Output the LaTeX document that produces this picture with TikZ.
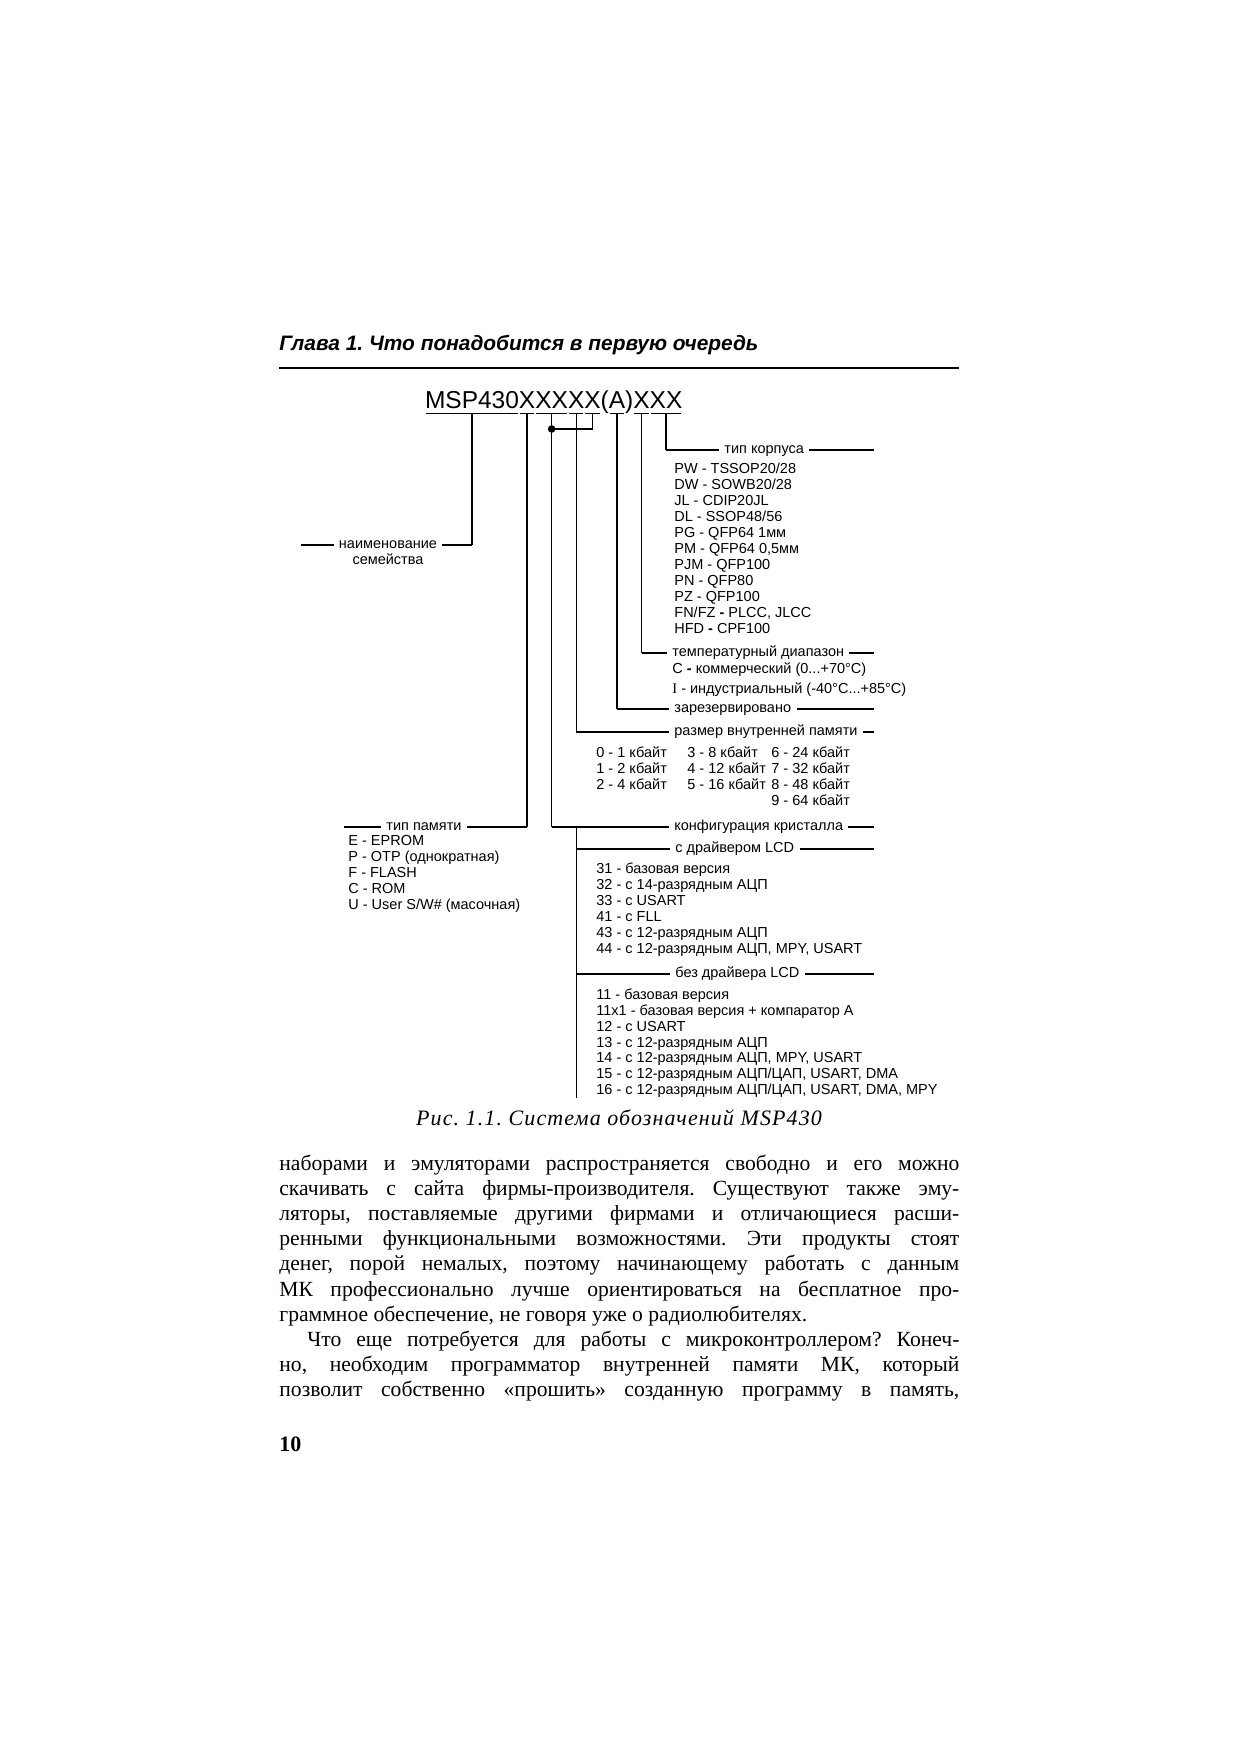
\documentclass[tikz,border=0pt]{standalone}
\usepackage{fontspec}
\setmainfont{Liberation Serif}
\setsansfont{Liberation Sans}
\usetikzlibrary{positioning}
\frenchspacing

\begin{document}
\begin{tikzpicture}[x=0.5pt,y=-0.5pt,
  dg/.style={font=\sffamily\fontsize{7.25pt}{8pt}\selectfont,inner xsep=2.5pt,inner ysep=0pt,text height=5pt,text depth=1.4pt},
  lst/.style={dg,anchor=west,inner xsep=0pt,yshift=-1pt},
  ttl/.style={font=\sffamily\fontsize{12.25pt}{14pt}\selectfont,inner sep=0pt,outer sep=0pt,anchor=base west},
  vln/.style={line width=0.65pt},
  hln/.style={line width=1.2pt},
  uln/.style={line width=0.5pt,shorten <=0.5pt,shorten >=0.5pt},
  bodyln/.style={font=\rmfamily\fontsize{10.8pt}{12.6pt}\selectfont,inner sep=0pt,anchor=base west}]
  \useasboundingbox (0,0) rectangle (1240,1755);
  \fill[white] (0,0) rectangle (1240,1755);

  % running head
  \node[font=\sffamily\bfseries\itshape\fontsize{10.45pt}{12pt}\selectfont,anchor=base west,inner sep=0pt] (hdr) at (279,350) {Глава 1. Что понадобится в первую очередь};
  \draw[line width=1.2pt] (279,368) -- (959,368);

  % part number, split in groups
  \node[ttl] (fam) at (425,408) {MSP430};
  \node[ttl] (mt) at (fam.base east) {X};
  \node[ttl] (cf) at (mt.base east) {XX};
  \node[ttl] (ms) at (cf.base east) {X};
  \node[ttl] (cf2) at (ms.base east) {X};
  \node[ttl] (lp) at (cf2.base east) {(};
  \node[ttl] (rs) at (lp.base east) {A};
  \node[ttl] (rp) at (rs.base east) {)};
  \node[ttl] (tr) at (rp.base east) {X};
  \node[ttl] (pk) at (tr.base east) {XX};
  \foreach \n in {fam,mt,cf,ms,cf2,rs,tr,pk} {
    \draw[uln] ([yshift=-2.5pt]\n.base west) -- ([yshift=-2.5pt]\n.base east);
    \coordinate (t-\n) at ([yshift=-2.5pt]\n.base);
  }
  \coordinate (rend) at (874,0);

  % family name
  \node[dg] (famname) at (388,545) {наименование};
  \node[dg,below=1pt of famname] (famname2) {семейства};
  \coordinate (fam-end) at (301,545);
  \draw[vln] (t-fam) -- (t-fam |- famname.east);
  \draw[hln] (t-fam |- famname.east) -- (famname.east);
  \draw[hln] (famname.west) -- (fam-end);

  % package
  \node[dg,anchor=west] (pkgl) at (719,450) {тип корпуса};
  \draw[vln] (t-pk) -- (t-pk |- pkgl.west);
  \draw[hln] (t-pk |- pkgl.west) -- (pkgl.west);
  \draw[hln] (pkgl.east) -- (pkgl.east -| rend);
  \foreach \txt [count=\i] in {PW - TSSOP20/28,DW - SOWB20/28,JL - CDIP20JL,DL - SSOP48/56,PG - QFP64 1мм,PM - QFP64 0{,}5мм,PJM - QFP100,PN - QFP80,PZ - QFP100,{FN/FZ \textbf{-} PLCC, JLCC},HFD \textbf{-} CPF100}
    \node[lst] (pkg-\i) at (674,{468+16*(\i-1)}) {\txt};

  % temperature
  \node[dg,anchor=west] (tmpl) at (667,653) {температурный диапазон};
  \draw[vln] (t-tr) -- (t-tr |- tmpl.west);
  \draw[hln] (t-tr |- tmpl.west) -- (tmpl.west);
  \draw[hln] (tmpl.east) -- (tmpl.east -| rend);
  \node[lst] (tmp-1) at (672,668) {C \textbf{-} коммерческий (0...+70°C)};
  \node[lst] (tmp-2) at (672,688) {{\rmfamily I} - индустриальный (-40°C...+85°C)};

  % reserved
  \node[dg,anchor=west] (rsvl) at (669,709) {зарезервировано};
  \draw[vln] (t-rs) -- (t-rs |- rsvl.west);
  \draw[hln] (t-rs |- rsvl.west) -- (rsvl.west);
  \draw[hln] (rsvl.east) -- (rsvl.east -| rend);

  % memory size
  \node[dg,anchor=west] (meml) at (669,732) {размер внутренней памяти};
  \draw[vln] (t-ms) -- (t-ms |- meml.west);
  \draw[hln] (t-ms |- meml.west) -- (meml.west);
  \draw[hln] (meml.east) -- (meml.east -| rend);
  \foreach \x/\y/\txt [count=\i] in {596/752/0 - 1 кбайт,596/768/1 - 2 кбайт,596/784/2 - 4 кбайт,
      687/752/3 - 8 кбайт,687/768/4 - 12 кбайт,687/784/5 - 16 кбайт,
      771/752/6 - 24 кбайт,771/768/7 - 32 кбайт,771/784/8 - 48 кбайт,771/800/9 - 64 кбайт}
    \node[lst] (mem-\i) at (\x,\y) {\txt};

  % memory type
  \node[dg] (mtl) at (424,827) {тип памяти};
  \coordinate (mt-end) at (344,827);
  \draw[vln] (t-mt) -- (t-mt |- mtl.east);
  \draw[hln] (t-mt |- mtl.east) -- (mtl.east);
  \draw[hln] (mtl.west) -- (mt-end);
  \foreach \txt [count=\i] in {E - EPROM,P - OTP (однократная),F - FLASH,C - ROM,U - User S/W\# (масочная)}
    \node[lst] (mtp-\i) at (348,{840+16*(\i-1)}) {\txt};

  % configuration
  \coordinate (jn) at ([yshift=-8pt]t-cf);
  \node[dg,anchor=west] (cfgl) at (669,827) {конфигурация кристалла};
  \draw[vln] (t-cf) -- (t-cf |- cfgl.west);
  \draw[hln] (t-cf |- cfgl.west) -- (cfgl.west);
  \draw[hln] (cfgl.east) -- (cfgl.east -| rend);
  \draw[vln] (t-cf2) -- (t-cf2 |- jn);
  \draw[hln] (t-cf2 |- jn) -- (jn);
  \fill (jn) circle[radius=1.9pt];

  \node[dg,anchor=west] (lcdl) at (670,849) {с драйвером LCD};
  \draw[hln] (lcdl.east) -- (lcdl.east -| rend);
  \foreach \txt [count=\i] in {31 - базовая версия,32 - с 14-разрядным АЦП,33 - с USART,41 - с FLL,43 - с 12-разрядным АЦП,{44 - с 12-разрядным АЦП, MPY, USART}}
    \node[lst] (lcd-\i) at (596,{868+16*(\i-1)}) {\txt};

  \node[dg,anchor=west] (nlcdl) at (670,974) {без драйвера LCD};
  \draw[hln] (nlcdl.east) -- (nlcdl.east -| rend);
  \foreach \txt [count=\i] in {11 - базовая версия,11x1 - базовая версия + компаратор A,12 - с USART,13 - с 12-разрядным АЦП,{14 - с 12-разрядным АЦП, MPY, USART},{15 - с 12-разрядным АЦП/ЦАП, USART, DMA},{16 - с 12-разрядным АЦП/ЦАП, USART, DMA, MPY}}
    \node[lst] (nl-\i) at (596,{994+15.8*(\i-1)}) {\txt};

  \coordinate (lcdtop) at (t-ms |- cfgl.west);
  \coordinate (lcdbot) at (lcdtop |- nl-7.south);
  \draw[vln] (lcdtop) -- (lcdbot);
  \draw[hln] (lcdtop |- lcdl.west) -- (lcdl.west);
  \draw[hln] (lcdtop |- nlcdl.west) -- (nlcdl.west);

  % caption
  \node[font=\rmfamily\itshape\fontsize{11pt}{13pt}\selectfont\addfontfeature{LetterSpace=5},anchor=base,inner sep=0pt] (cap) at (619,1125) {Рис. 1.1. Система обозначений MSP430};

  % body text
  \foreach \y/\txt [count=\i] in {1170/{наборами и эмуляторами распространяется свободно и его можно},
      1195.2/{скачивать с сайта фирмы-производителя. Существуют также эму-},
      1220.4/{ляторы, поставляемые другими фирмами и отличающиеся расши-},
      1245.6/{ренными функциональными возможностями. Эти продукты стоят},
      1270.8/{денег, порой немалых, поэтому начинающему работать с данным},
      1296/{МК профессионально лучше ориентироваться на бесплатное про-}}
    \node[bodyln] (b-\i) at (279,\y) {\makebox[340pt][s]{\txt}};
  \node[bodyln] (b-7) at (279,1321.2) {граммное обеспечение, не говоря уже о радиолюбителях.};
  \node[bodyln] (b-8) at (307,1346.4) {\makebox[326pt][s]{Что еще потребуется для работы с микроконтроллером? Конеч-}};
  \node[bodyln] (b-9) at (279,1371.6) {\makebox[340pt][s]{но, необходим программатор внутренней памяти МК, который}};
  \node[bodyln] (b-10) at (279,1396.8) {\makebox[340pt][s]{позволит собственно «прошить» созданную программу в память,}};

  \node[font=\rmfamily\bfseries\fontsize{11pt}{13pt}\selectfont,anchor=base west,inner sep=0pt] (pg) at (279,1451) {10};
\end{tikzpicture}
\end{document}
